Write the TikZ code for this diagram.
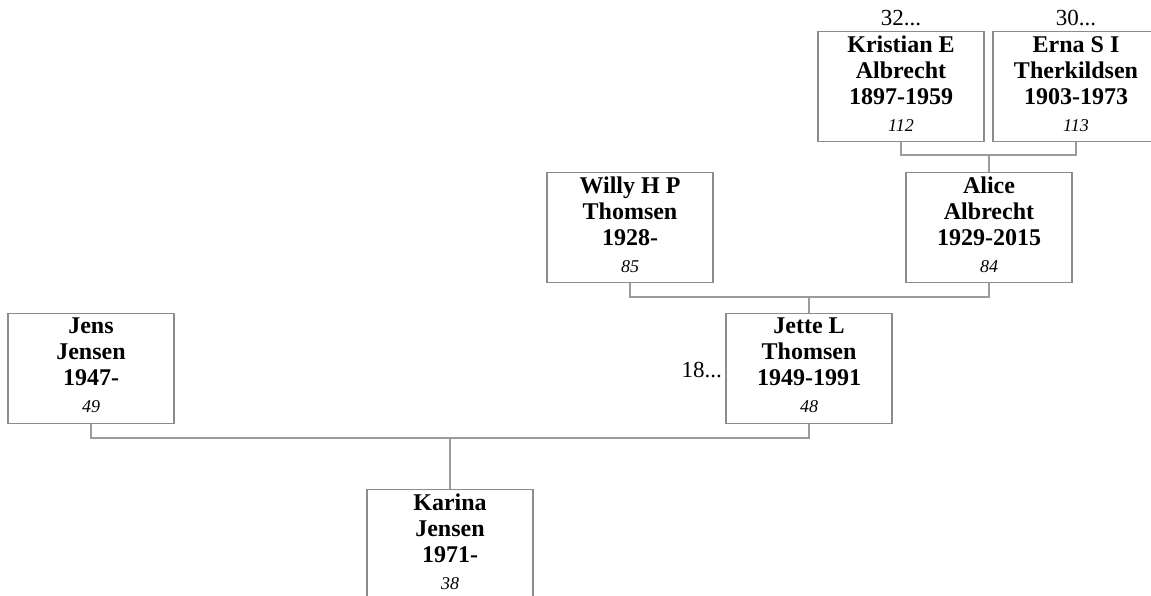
\documentclass[tikz,border=0pt]{standalone}
\usepackage{fontspec}
\setmainfont{Liberation Serif}
\definecolor{boxgray}{RGB}{140,140,140}
\definecolor{linegray}{RGB}{155,155,155}
\newcommand{\pnum}[1]{\\[1pt]{\normalfont\itshape\fontsize{18}{22}\selectfont #1\rule[-6pt]{0pt}{0pt}}}
\tikzset{
  person/.style={draw=boxgray, line width=1.2pt, rectangle, minimum width=166pt, minimum height=110pt,
    inner sep=0pt, align=center, anchor=north, font=\bfseries\fontsize{24}{26}\selectfont},
  conn/.style={draw=linegray, line width=1.2pt},
  more/.style={font=\fontsize{23}{26}\selectfont, inner sep=0pt}
}
\begin{document}
\begin{tikzpicture}[x=1pt,y=-1pt]
\useasboundingbox (0,0) rectangle (1151,596);
\clip (0,0) rectangle (1151,596);
\node[person] (kristian) at (901,31) {Kristian E\\Albrecht\\1897-1959\pnum{112}};
\node[person] (erna) at (1076,31) {Erna S I\\Therkildsen\\1903-1973\pnum{113}};
\node[person] (alice) at (989,172) {Alice\\Albrecht\\1929-2015\pnum{84}};
\node[person] (willy) at (630,172) {Willy H P\\Thomsen\\1928-\pnum{85}};
\node[person] (jette) at (809,313) {Jette L\\Thomsen\\1949-1991\pnum{48}};
\node[person] (jens) at (91,313) {Jens\\Jensen\\1947-\pnum{49}};
\node[person] (karina) at (450,489) {Karina\\Jensen\\1971-\pnum{38}};
\node[more, anchor=base] (k32) at (901,26) {32...};
\node[more, anchor=base] (e30) at (1076,26) {30...};
\node[more, anchor=base east] (j18) at (722,377) {18...};
\coordinate (m1) at (989,155);
\coordinate (m2) at (809,297);
\coordinate (m3) at (450,438);
\draw[conn] (kristian.south) |- (m1) -| (erna.south);
\draw[conn] (m1) -- (alice.north);
\draw[conn] (willy.south) |- (m2) -| (alice.south);
\draw[conn] (m2) -- (jette.north);
\draw[conn] (jens.south) |- (m3) -| (jette.south);
\draw[conn] (m3) -- (karina.north);
\end{tikzpicture}
\end{document}
